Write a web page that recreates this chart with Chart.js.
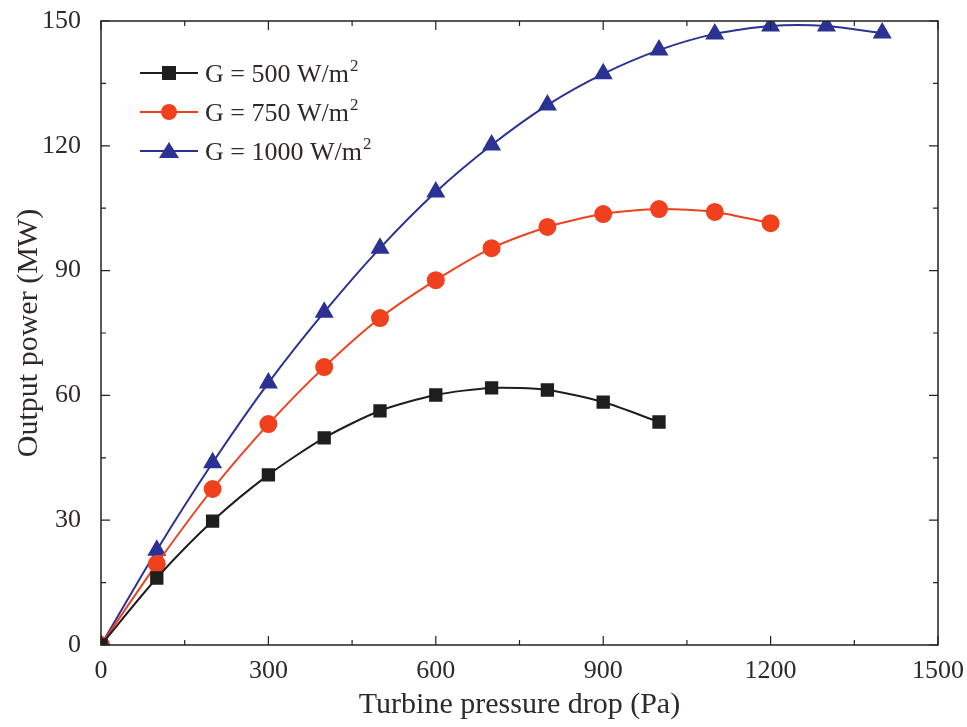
<!DOCTYPE html>
<html>
<head>
<meta charset="utf-8">
<script src="https://cdn.jsdelivr.net/npm/chart.js@4"></script>
<style>
  html, body { margin: 0; padding: 0; background: #fff; }
  #wrap { width: 967px; height: 727px; }
</style>
</head>
<body>
<div id="wrap"><canvas id="powerChart" width="967" height="727"></canvas></div>
<script>
// --------- DATA ----------
const pressure500 = [0, 100, 200, 300, 400, 500, 600, 700, 800, 900, 1000];
const power500 = [0, 16.1, 29.8, 40.9, 49.8, 56.3, 60.1, 61.8, 61.3, 58.4, 53.6];

const pressure750 = [0, 100, 200, 300, 400, 500, 600, 700, 800, 900, 1000, 1100, 1200];
const power750 = [0, 19.5, 37.5, 53.1, 66.8, 78.6, 87.7, 95.4, 100.5, 103.6, 104.8, 104.1, 101.4];

const pressure1000 = [0, 100, 200, 300, 400, 500, 600, 700, 800, 900, 1000, 1100, 1200, 1300, 1400];
const power1000 = [0, 22.8, 43.8, 63.0, 80.0, 95.4, 108.9, 120.2, 129.8, 137.3, 143.0, 146.9, 148.8, 148.8, 147.1];

const seriesLabels = ['G = 500 W/m²', 'G = 750 W/m²', 'G = 1000 W/m²'];
const xTicks = [0, 300, 600, 900, 1200, 1500];
const yTicks = [0, 30, 60, 90, 120, 150];

const FONT = "'Liberation Serif', 'DejaVu Serif', serif";
const TEXT = '#2f2a28';

function toPoints(xs, ys) {
    return xs.map((x, i) => ({ x: x, y: ys[i] }));
}

// ---------- frame, inward ticks and legend ----------
const framePlugin = {
    id: 'frame',
    afterDraw(chart) {
        const { ctx, chartArea: a, scales } = chart;
        ctx.save();
        ctx.strokeStyle = '#222';
        ctx.lineWidth = 1.5;
        ctx.strokeRect(a.left, a.top, a.right - a.left, a.bottom - a.top);

        ctx.lineWidth = 1.2;
        // x ticks: major 300, minor 150
        for (let v = 0; v <= 1500; v += 150) {
            const px = scales.x.getPixelForValue(v);
            const len = v % 300 === 0 ? 9 : 5;
            ctx.beginPath();
            ctx.moveTo(px, a.bottom); ctx.lineTo(px, a.bottom - len);
            ctx.moveTo(px, a.top); ctx.lineTo(px, a.top + len);
            ctx.stroke();
        }
        // y ticks: major 30, minor 15
        for (let v = 0; v <= 150; v += 15) {
            const py = scales.y.getPixelForValue(v);
            const len = v % 30 === 0 ? 9 : 5;
            ctx.beginPath();
            ctx.moveTo(a.left, py); ctx.lineTo(a.left + len, py);
            ctx.moveTo(a.right, py); ctx.lineTo(a.right - len, py);
            ctx.stroke();
        }

        // legend (superscript drawn smaller and raised)
        const lx = a.left + 39, ly0 = a.top + 52, step = 39;
        chart.data.datasets.forEach((ds, i) => {
            const y = ly0 + i * step;
            ctx.strokeStyle = ds.borderColor;
            ctx.lineWidth = 2;
            ctx.beginPath();
            ctx.moveTo(lx, y); ctx.lineTo(lx + 58, y);
            ctx.stroke();
            ctx.fillStyle = ds.backgroundColor;
            const cx = lx + 29;
            ctx.beginPath();
            if (ds.pointStyle === 'rect') {
                ctx.rect(cx - 7, y - 7, 14, 14);
            } else if (ds.pointStyle === 'circle') {
                ctx.arc(cx, y, 8, 0, Math.PI * 2);
            } else {
                ctx.moveTo(cx, y - 9); ctx.lineTo(cx + 10, y + 7); ctx.lineTo(cx - 10, y + 7); ctx.closePath();
            }
            ctx.fill();

            let base = ds.label, sup = '';
            if (base.endsWith('²')) { base = base.slice(0, -1); sup = '2'; }
            ctx.fillStyle = TEXT;
            ctx.textBaseline = 'alphabetic';
            ctx.font = '26px ' + FONT;
            const tx = lx + 65;
            ctx.fillText(base, tx, y + 9);
            if (sup) {
                const w = ctx.measureText(base).width;
                ctx.font = '17px ' + FONT;
                ctx.fillText(sup, tx + w + 1, y - 2);
            }
        });
        ctx.restore();
    }
};

const ctx = document.getElementById('powerChart').getContext('2d');

let powerChart = new Chart(ctx, {
    type: 'line',
    data: {
        datasets: [{
            label: seriesLabels[0],
            data: toPoints(pressure500, power500),
            borderColor: '#1e1e1e',
            backgroundColor: '#1e1e1e',
            pointStyle: 'rect',
            pointRadius: 8,
            borderWidth: 2,
            tension: 0.25
        }, {
            label: seriesLabels[1],
            data: toPoints(pressure750, power750),
            borderColor: '#f0401e',
            backgroundColor: '#f0401e',
            pointStyle: 'circle',
            pointRadius: 8,
            borderWidth: 2,
            tension: 0.25
        }, {
            label: seriesLabels[2],
            data: toPoints(pressure1000, power1000),
            borderColor: '#2b3293',
            backgroundColor: '#2b3293',
            pointStyle: 'triangle',
            pointRadius: 9,
            borderWidth: 2,
            tension: 0.25
        }]
    },
    options: {
        responsive: false,
        animation: false,
        layout: { padding: { top: 21, right: 29, left: 0, bottom: 0 } },
        plugins: {
            legend: { display: false },
            tooltip: { enabled: false }
        },
        scales: {
            x: {
                type: 'linear',
                min: 0, max: 1500,
                afterBuildTicks: s => { s.ticks = xTicks.map(v => ({ value: v })); },
                afterFit: s => { s.height = 82; },
                grid: { display: false },
                border: { display: false },
                ticks: { color: TEXT, font: { family: FONT, size: 26 }, padding: 3, maxRotation: 0,
                         callback: v => String(v) },
                title: { display: true, text: 'Turbine pressure drop (Pa)', color: TEXT,
                         font: { family: FONT, size: 30 }, padding: { top: 2, bottom: 4 } }
            },
            y: {
                min: 0, max: 150,
                afterBuildTicks: s => { s.ticks = yTicks.map(v => ({ value: v })); },
                afterFit: s => { s.width = 101; s.paddingTop = 0; s.paddingBottom = 0; },
                grid: { display: false },
                border: { display: false },
                ticks: { color: TEXT, font: { family: FONT, size: 26, lineHeight: 0.8 }, padding: 12,
                         callback: v => String(v) },
                title: { display: true, text: 'Output power (MW)', color: TEXT,
                         font: { family: FONT, size: 30 }, padding: { top: 11, bottom: 0 } }
            }
        }
    },
    plugins: [framePlugin]
});
</script>
</body>
</html>
